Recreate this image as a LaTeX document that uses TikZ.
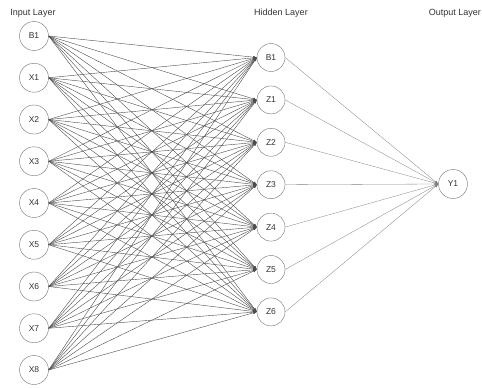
\documentclass[tikz,border=0pt]{standalone}
\usepackage{fontspec}
\setmainfont{Liberation Sans}
\usetikzlibrary{positioning,arrows.meta}
\begin{document}
\begin{tikzpicture}[x=1pt,y=-1pt,
	neur/.style={draw=black!55,circle,minimum size=29pt,inner sep=0pt,
		fill=white,font=\fontsize{8.5}{9}\selectfont,text=black!80},
	wire/.style={draw=black!70,line width=0.4pt,
		-{Latex[length=3.5pt,width=2.8pt]}},
	lyr/.style={font=\fontsize{9}{10}\selectfont,text=black!80}]
	\useasboundingbox (0,0) rectangle (482,388);
	% layer titles
	\node[lyr] (tin) at (33,13) {Input Layer};
	\node[lyr] (thid) at (281,13) {Hidden Layer};
	\node[lyr,anchor=east,inner xsep=1pt] (tout) at (482,13) {Output Layer};
	% neurons
	\foreach \n [count=\i from 0] in {B1,X1,X2,X3,X4,X5,X6,X7,X8}
		\node[neur] (i\i) at (34,36+41.75*\i) {\n};
	\foreach \n [count=\j from 0] in {B1,Z1,Z2,Z3,Z4,Z5,Z6}
		\node[neur,minimum size=28pt] (h\j) at (271,57.5+42.4*\j) {\n};
	\node[neur] (y1) at (453,184) {Y1};
	% connections
	\foreach \i in {0,...,8}
		\foreach \j in {0,...,6}
			\draw[wire] (i\i.east) -- (h\j.west);
	\foreach \j in {0,...,6}
		\draw[wire,draw=black!50,line width=0.3pt] (h\j.east) -- (y1.west);
\end{tikzpicture}
\end{document}
